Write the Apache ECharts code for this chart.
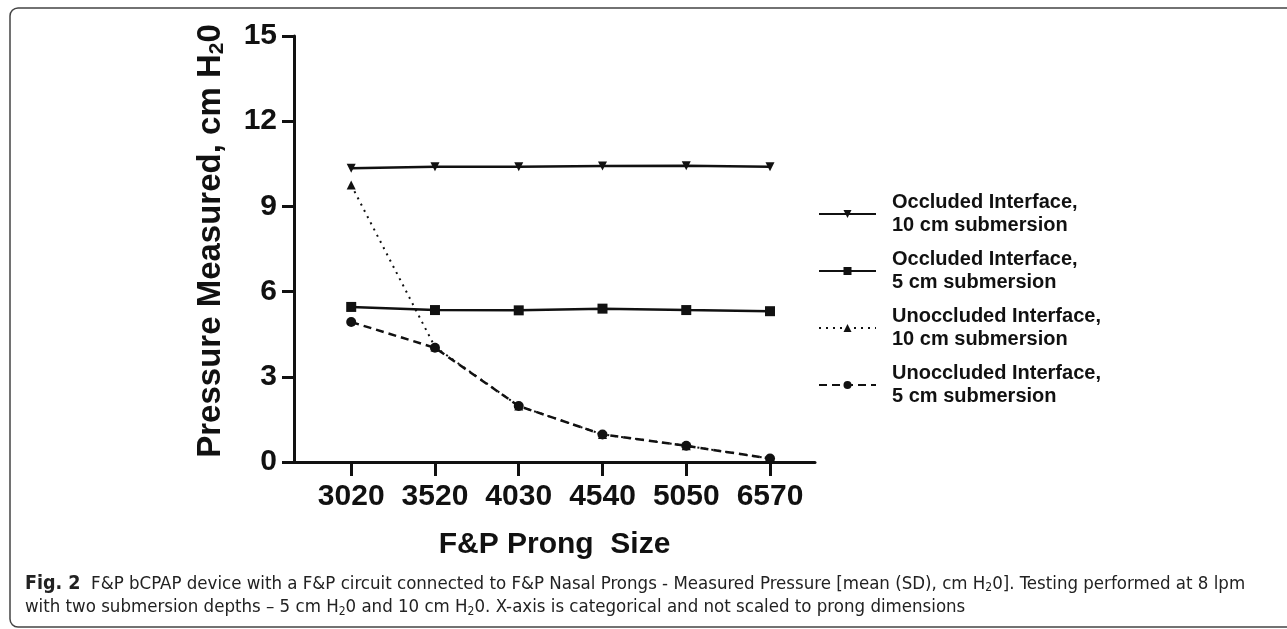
<!DOCTYPE html>
<html><head><meta charset="utf-8">
<script src="https://cdn.jsdelivr.net/npm/echarts@6/dist/echarts.min.js"></script>
<style>html,body{margin:0;padding:0;background:#fff}#c{width:1287px;height:629px}</style>
</head><body><div id="c"></div>
<script>
// ---- data ----
const categories = ['3020', '3520', '4030', '4540', '5050', '6570'];
const occluded10 = [10.34, 10.40, 10.40, 10.42, 10.43, 10.40];
const occluded5 = [5.46, 5.35, 5.34, 5.40, 5.35, 5.31];
const unoccluded10 = [9.75, 4.05, 1.97, 0.97, 0.57, 0.12];
const unoccluded5 = [4.93, 4.02, 1.97, 0.97, 0.57, 0.12];
const yTicks = [0, 3, 6, 9, 12, 15];
const seriesNames = [
  'Occluded Interface,\n10 cm submersion',
  'Occluded Interface,\n5 cm submersion',
  'Unoccluded Interface,\n10 cm submersion',
  'Unoccluded Interface,\n5 cm submersion'
];
const xTitle = 'F&P Prong  Size';
const captionBold = 'Fig. 2';
const caption1a = '  F&P bCPAP device with a F&P circuit connected to F&P Nasal Prongs - Measured Pressure [mean (SD), cm H';
const caption1b = '0]. Testing performed at 8 lpm';
const caption2a = 'with two submersion depths \u2013 5 cm H';
const caption2b = '0 and 10 cm H';
const caption2c = '0. X-axis is categorical and not scaled to prong dimensions';

// ---- helpers ----
const idx = categories.map((c, i) => i);
const toPts = arr => arr.map((v, i) => [i, v]);
const CAPFONT = "'DejaVu Sans Condensed', 'Liberation Sans Narrow', 'Liberation Sans', sans-serif";
const BOLDFONT = "'Liberation Sans', Arial, sans-serif";
function measure(text, font) {
  const cv = document.createElement('canvas').getContext('2d');
  cv.font = font; return cv.measureText(text).width;
}
const w100 = measure(captionBold, 'bold 100px ' + CAPFONT) +
  measure(caption1a + '2' + caption1b, '100px ' + CAPFONT);
let capSize = 1222 / w100 * 100;
capSize = Math.max(14, Math.min(21, capSize));
const subSize = Math.round(capSize * 0.65);

const chart = echarts.init(document.getElementById('c'), null, {renderer: 'canvas'});
const black = '#111';
const legendRich = {t: {fontSize: 20, fontWeight: 'bold', lineHeight: 23, color: black, padding: [0, 0, 0, 11], fontFamily: BOLDFONT}};

const option = {
  backgroundColor: '#fff',
  animation: false,
  grid: {left: 294, right: 472, top: 36, bottom: 167},
  legend: {
    data: seriesNames,
    orient: 'vertical',
    left: 818, top: 191, padding: 0,
    itemWidth: 57, itemHeight: 10, itemGap: 11,
    formatter: n => n.split('\n').map(s => '{t|' + s + '}').join('\n'),
    textStyle: {rich: legendRich, fontSize: 20, lineHeight: 23}
  },
  xAxis: {
    type: 'value', min: -0.683, max: 5.537,
    axisLine: {show: true, onZero: false, lineStyle: {color: black, width: 3}},
    axisTick: {show: true, customValues: idx, length: 14, lineStyle: {color: black, width: 3}},
    axisLabel: {customValues: idx, formatter: v => categories[Math.round(v)], fontSize: 30, fontWeight: 'bold', color: black, margin: 20, fontFamily: BOLDFONT},
    splitLine: {show: false},
    name: xTitle, nameLocation: 'middle', nameGap: 68,
    nameTextStyle: {fontSize: 30, fontWeight: 'bold', color: black, fontFamily: BOLDFONT}
  },
  yAxis: {
    type: 'value', min: 0, max: 15, interval: 3,
    axisLine: {show: true, onZero: false, lineStyle: {color: black, width: 3}},
    axisTick: {show: true, length: 12, lineStyle: {color: black, width: 3}},
    axisLabel: {fontSize: 30, fontWeight: 'bold', color: black, margin: 17, fontFamily: BOLDFONT,
      formatter: v => yTicks.includes(v) ? String(v) : ''},
    splitLine: {show: false},
    name: '{a|Pressure Measured, cm H}{s|2}{a|0}',
    nameLocation: 'middle', nameRotate: 90, nameGap: 66,
    nameTextStyle: {
      padding: [0, 0, 0, 16],
      rich: {
        a: {fontSize: 33, fontWeight: 'bold', color: black, fontFamily: BOLDFONT},
        s: {fontSize: 21, fontWeight: 'bold', color: black, padding: [14, 0, 0, 0], fontFamily: BOLDFONT}
      }
    }
  },
  series: [
    {name: seriesNames[2], type: 'line', data: toPts(unoccluded10), symbol: 'triangle', symbolSize: 9,
      lineStyle: {color: black, width: 2, type: [2, 5]}, itemStyle: {color: black}, z: 2},
    {name: seriesNames[3], type: 'line', data: toPts(unoccluded5), symbol: 'circle', symbolSize: 10,
      lineStyle: {color: black, width: 2.5, type: [8, 5]}, itemStyle: {color: black}, z: 3},
    {name: seriesNames[1], type: 'line', data: toPts(occluded5), symbol: 'rect', symbolSize: 10,
      lineStyle: {color: black, width: 2.5}, itemStyle: {color: black}, z: 4},
    {name: seriesNames[0], type: 'line', data: toPts(occluded10), symbol: 'triangle', symbolRotate: 180, symbolSize: 9,
      lineStyle: {color: black, width: 2.5}, itemStyle: {color: black}, z: 5}
  ],
  graphic: [
    {type: 'rect', silent: true, shape: {x: 10, y: 8, width: 1400, height: 619, r: 8},
      style: {fill: 'none', stroke: '#444', lineWidth: 1.5}},
    {type: 'text', left: 25, top: 587 - capSize * 0.7,
      style: {
        text: '{b|' + captionBold + '}{n|' + caption1a + '}{s|2}{n|' + caption1b + '}',
        rich: {
          b: {fontSize: capSize + 1, fontWeight: 'bold', fontFamily: CAPFONT, fill: '#222'},
          n: {fontSize: capSize, fontFamily: CAPFONT, fill: '#222'},
          s: {fontSize: subSize, fontFamily: CAPFONT, fill: '#222', padding: [Math.round(capSize * 0.45), 0, 0, 0]}
        }
      }},
    {type: 'text', left: 25, top: 611 - capSize * 0.7,
      style: {
        text: '{n|' + caption2a + '}{s|2}{n|' + caption2b + '}{s|2}{n|' + caption2c + '}',
        rich: {
          n: {fontSize: capSize, fontFamily: CAPFONT, fill: '#222'},
          s: {fontSize: subSize, fontFamily: CAPFONT, fill: '#222', padding: [Math.round(capSize * 0.45), 0, 0, 0]}
        }
      }}
  ]
};
chart.setOption(option);
</script>
</body></html>
